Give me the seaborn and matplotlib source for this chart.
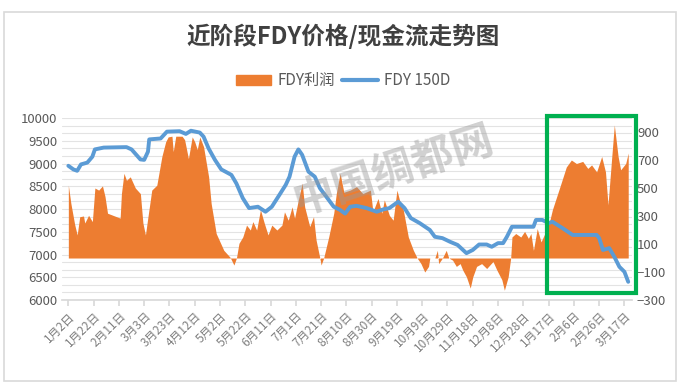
import seaborn as sns
import matplotlib.pyplot as plt
import matplotlib.patches as mpatches
from matplotlib.lines import Line2D
from matplotlib.ticker import MultipleLocator
import pandas as pd

start = pd.Timestamp('2019-01-02')

# FDY 150D price (left axis), day offsets from 2019-01-02
price_days = [0, 4, 7, 10, 15, 19, 21, 28, 46, 50, 57, 60, 63, 64, 73, 78, 88, 93, 97, 104,
              107, 111, 116, 121, 129, 133, 138, 143, 150, 156, 161, 167, 172, 175, 179, 182,
              185, 190, 195, 199, 206, 210, 215, 219, 223, 228, 236, 244, 249, 254, 261, 266,
              271, 278, 286, 290, 296, 302, 308, 315, 320, 325, 331, 335, 340, 344, 347, 351,
              368, 370, 375, 380, 383, 391, 399, 418, 420, 423, 428, 432, 436, 440, 443]
price = [8950, 8870, 8840, 8980, 9020, 9150, 9310, 9350, 9360, 9310, 9090, 9080, 9260, 9530,
         9550, 9700, 9710, 9650, 9720, 9680, 9590, 9330, 9080, 8870, 8750, 8560, 8240, 8020,
         8050, 7940, 8050, 8310, 8530, 8710, 9150, 9310, 9190, 8820, 8710, 8460, 8200, 8050,
         7980, 7900, 8050, 8070, 8020, 7940, 7990, 8020, 8160, 8020, 7800, 7690, 7540, 7390,
         7360, 7280, 7210, 7030, 7100, 7220, 7220, 7170, 7250, 7250, 7390, 7610, 7610, 7760,
         7760, 7690, 7720, 7580, 7430, 7430, 7360, 7100, 7140, 6950, 6730, 6620, 6400]

# FDY profit (right axis)
profit_days = [0, 2, 5, 7, 9, 12, 13, 16, 19, 21, 24, 27, 29, 31, 41, 42, 44, 46, 49, 53, 57,
               59, 61, 63, 66, 70, 74, 77, 79, 82, 83, 85, 90, 92, 95, 98, 100, 102, 104, 107,
               111, 113, 117, 123, 128, 131, 133, 135, 138, 141, 144, 146, 149, 152, 155, 158,
               161, 165, 169, 171, 174, 177, 179, 182, 185, 187, 191, 194, 196, 199, 200, 202,
               206, 210, 212, 215, 218, 223, 228, 233, 239, 241, 245, 248, 250, 254, 257, 260,
               262, 265, 269, 273, 276, 279, 282, 285, 286, 290, 292, 293, 296, 299, 301, 304,
               307, 310, 312, 315, 318, 320, 323, 327, 331, 336, 339, 343, 345, 348, 350, 351,
               354, 358, 361, 364, 366, 368, 371, 374, 377, 381, 383, 389, 394, 398, 402, 407,
               411, 414, 418, 422, 425, 427, 430, 432, 435, 437, 441, 443]
profit = [520, 390, 240, 165, 295, 300, 250, 305, 260, 500, 485, 515, 440, 320, 285, 460, 605,
          555, 580, 500, 460, 250, 165, 295, 485, 520, 725, 830, 865, 870, 760, 870, 870, 845,
          710, 865, 830, 775, 865, 795, 580, 390, 175, 55, 5, -50, 0, 105, 150, 235, 200, 260,
          200, 345, 250, 165, 235, 200, 235, 330, 270, 365, 285, 415, 535, 365, 225, 295, 130,
          0, -50, 0, 150, 320, 460, 605, 470, 485, 510, 460, 485, 330, 425, 320, 415, 305, 270,
          485, 415, 345, 150, 55, 0, -40, -100, -60, 0, 0, 55, -40, 0, 55, 0, -15, -60, -40,
          -85, -135, -215, -135, -60, -40, -75, -25, -85, -155, -230, -135, 0, 150, 175, 150,
          190, 140, 175, 55, 210, 115, 175, 270, 345, 510, 650, 700, 675, 690, 640, 665, 615,
          725, 615, 380, 725, 950, 725, 630, 675, 750]

price_dates = start + pd.to_timedelta(price_days, unit='D')
profit_dates = start + pd.to_timedelta(profit_days, unit='D')
tick_dates = pd.date_range(start, periods=23, freq='20D')
tick_labels = [f"{d.month}月{d.day}日" for d in tick_dates]

orange = '#ED7D31'
blue = '#5B9BD5'
grey = '#595959'

sns.set_theme(style='white')
plt.rcParams['font.family'] = ['Noto Sans CJK SC', 'DejaVu Sans']

fig = plt.figure(figsize=(6.93, 3.91), dpi=100)
ax = fig.add_axes([0.0895, 0.2327, 0.8225, 0.4655])
ax2 = ax.twinx()
ax3 = ax.twinx()

# left axis: price scale + grid
ax.set_ylim(6000, 10000)
ax.yaxis.set_major_locator(MultipleLocator(500))
ax.yaxis.set_minor_locator(MultipleLocator(500 / 3))
ax.grid(True, which='both', axis='y', color='#e3e3e3', lw=0.8)
ax.grid(False, axis='x')
ax.tick_params(axis='y', labelsize=9.5, labelcolor=grey, length=0, which='both')

# right axis: profit area
ax2.fill_between(profit_dates, 0, profit, color=orange, lw=0)
ax2.set_ylim(-300, 1000)
ax2.set_yticks([-300, -100, 100, 300, 500, 700, 900])
ax2.tick_params(axis='y', labelsize=9.5, labelcolor=grey, length=0)

# price line on top
sns.lineplot(x=price_dates, y=price, ax=ax3, color=blue, lw=2.8)
ax3.set_ylim(6000, 10000)
ax3.yaxis.set_visible(False)
ax3.set_xlabel('')
ax3.set_ylabel('')

xmin = start - pd.Timedelta(days=5)
xmax = start + pd.Timedelta(days=446)
for a in (ax, ax2, ax3):
    a.set_xlim(xmin, xmax)
    for s in a.spines.values():
        s.set_visible(False)
ax.spines['bottom'].set_visible(True)
ax.spines['bottom'].set_color('#d9d9d9')

ax.set_xticks(tick_dates)
ax.set_xticklabels(tick_labels, rotation=45, ha='right', rotation_mode='anchor',
                   fontsize=8.5, color='#7f7f7f')
ax.tick_params(axis='x', bottom=True, length=4, color='#d9d9d9', pad=3)

# highlight box over the recent period
box = mpatches.Rectangle((start + pd.Timedelta(days=379), 6150), pd.Timedelta(days=70), 3890,
                         fill=False, ec='#00B050', lw=3, clip_on=False, zorder=10)
ax3.add_patch(box)

fig.text(0.495, 0.906, '近阶段FDY价格/现金流走势图', ha='center', va='center',
         fontsize=17, fontweight='bold', color='#404040')

handles = [mpatches.Patch(color=orange, label='FDY利润'),
           Line2D([0], [0], color=blue, lw=3, label='FDY 150D')]
fig.legend(handles=handles, loc='center', bbox_to_anchor=(0.495, 0.793), ncol=2,
           frameon=False, fontsize=11, labelcolor=grey, handlelength=2.3,
           columnspacing=0.5, handletextpad=0.4)

fig.text(0.568, 0.565, '中国绸都网', rotation=18, ha='center', va='center', fontsize=30,
         color='#9a9a9a', alpha=0.45, fontweight='bold')

fig.add_artist(mpatches.Rectangle((0.006, 0.025), 0.97, 0.945, transform=fig.transFigure,
                                  fill=False, ec='#d9d9d9', lw=1.2))

fig.savefig('out.png', dpi=100)
